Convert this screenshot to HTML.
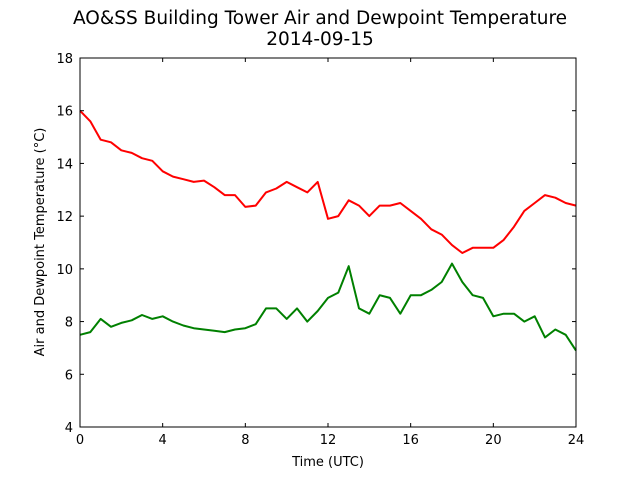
<!DOCTYPE html>
<html><head><meta charset="utf-8"><style>
html,body{margin:0;padding:0;background:#fff;}
svg{display:block;font-family:"DejaVu Sans","Liberation Sans",sans-serif;}
</style></head><body>
<svg id="chart" width="640" height="480">
<text x="320" y="24" text-anchor="middle" font-size="18.5">AO&amp;SS Building Tower Air and Dewpoint Temperature</text>
<text x="320" y="45" text-anchor="middle" font-size="18.5">2014-09-15</text>
<g id="plot"></g>
<g id="axes"></g>
<text x="328" y="466" text-anchor="middle" font-size="13">Time (UTC)</text>
<text transform="translate(44,242) rotate(-90)" text-anchor="middle" font-size="13">Air and Dewpoint Temperature (°C)</text>
</svg>
<script>
const hours = [0,0.5,1,1.5,2,2.5,3,3.5,4,4.5,5,5.5,6,6.5,7,7.5,8,8.5,9,9.5,10,10.5,11,11.5,12,12.5,13,13.5,14,14.5,15,15.5,16,16.5,17,17.5,18,18.5,19,19.5,20,20.5,21,21.5,22,22.5,23,23.5,24];
const airTemp = [16.0,15.6,14.9,14.8,14.5,14.4,14.2,14.1,13.7,13.5,13.4,13.3,13.35,13.1,12.8,12.8,12.35,12.4,12.9,13.05,13.3,13.1,12.9,13.3,11.9,12.0,12.6,12.4,12.0,12.4,12.4,12.5,12.2,11.9,11.5,11.3,10.9,10.6,10.8,10.8,10.8,11.1,11.6,12.2,12.5,12.8,12.7,12.5,12.4];
const dewTemp = [7.5,7.6,8.1,7.8,7.95,8.05,8.25,8.1,8.2,8.0,7.85,7.75,7.7,7.65,7.6,7.7,7.75,7.9,8.5,8.5,8.1,8.5,8.0,8.4,8.9,9.1,10.1,8.5,8.3,9.0,8.9,8.3,9.0,9.0,9.2,9.5,10.2,9.5,9.0,8.9,8.2,8.3,8.3,8.0,8.2,7.4,7.7,7.5,6.9];
const xTicks = [0,4,8,12,16,20,24];
const yTicks = [4,6,8,10,12,14,16,18];
const X0=80,X1=576,Y0=427,Y1=58;
const xs=v=>X0+(v-0)/(24-0)*(X1-X0);
const ys=v=>Y0-(v-4)/(18-4)*(Y0-Y1);
const NS="http://www.w3.org/2000/svg";
const plot=document.getElementById('plot'), axes=document.getElementById('axes');
function mk(tag,attrs,parent){const e=document.createElementNS(NS,tag);for(const k in attrs)e.setAttribute(k,attrs[k]);parent.appendChild(e);return e;}
function line(vals,color,name){
  const d=vals.map((v,i)=>(i?'L':'M')+xs(hours[i]).toFixed(1)+' '+ys(v).toFixed(1)).join(' ');
  const p=mk('path',{d:d,fill:'none',stroke:color,'stroke-width':2,'stroke-linejoin':'round'},plot);
  
  
}
line(airTemp,'#ff0000','air-temperature-line');
line(dewTemp,'#008000','dewpoint-temperature-line');
const frame=mk('rect',{x:X0,y:Y1,width:X1-X0,height:Y0-Y1,fill:'none',stroke:'#000','stroke-width':1},axes);


xTicks.forEach(t=>{
  const x=xs(t);
  mk('line',{x1:x,x2:x,y1:Y0,y2:Y0-4,stroke:'#000'},axes);
  mk('line',{x1:x,x2:x,y1:Y1,y2:Y1+4,stroke:'#000'},axes);
  const tx=mk('text',{x:x,y:Y0+17,'text-anchor':'middle','font-size':13},axes);
  tx.textContent=t;
  
  
});
yTicks.forEach(t=>{
  const y=ys(t);
  mk('line',{x1:X0,x2:X0+4,y1:y,y2:y,stroke:'#000'},axes);
  mk('line',{x1:X1,x2:X1-4,y1:y,y2:y,stroke:'#000'},axes);
  const tx=mk('text',{x:X0-7,y:y+5,'text-anchor':'end','font-size':13},axes);
  tx.textContent=t;
  
  
});
</script>
</body></html>
